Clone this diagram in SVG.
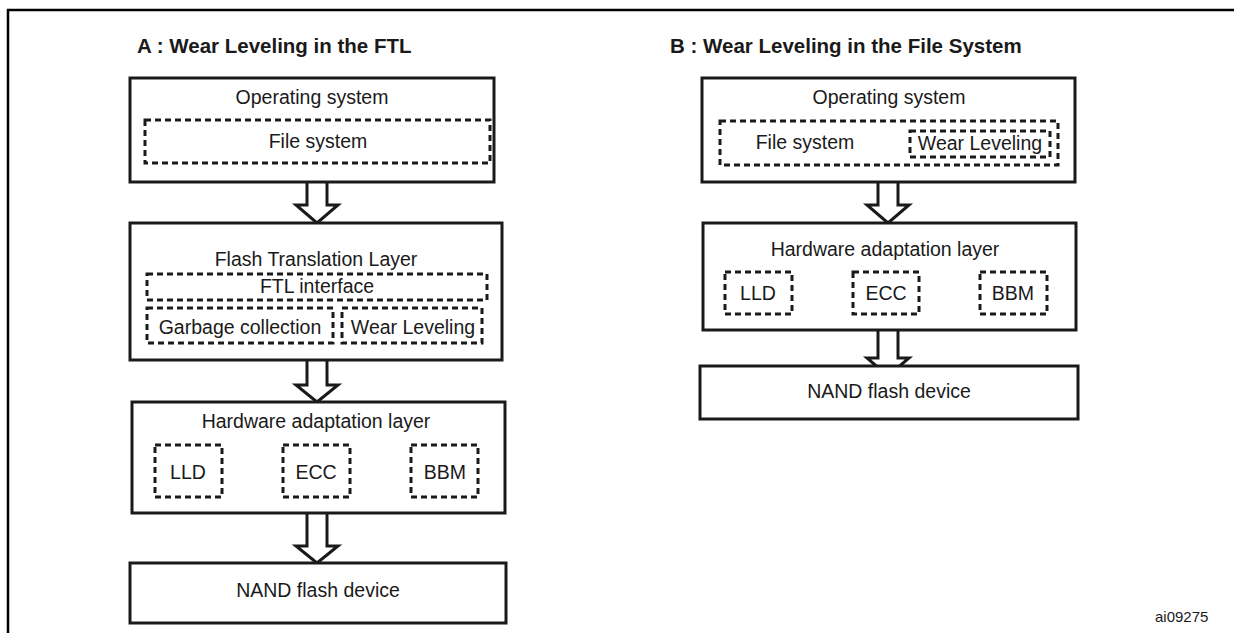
<svg xmlns="http://www.w3.org/2000/svg" width="1234" height="633" viewBox="0 0 1234 633">
<style>
.box{fill:#fff;stroke:#1a1a1a;stroke-width:3}
.dash{fill:none;stroke:#1a1a1a;stroke-width:3;stroke-dasharray:6 4}
.arrow{fill:#fff;stroke:#1a1a1a;stroke-width:3;stroke-linejoin:miter}
text{font-family:"Liberation Sans",Arial,sans-serif;fill:#1a1a1a}
.t{font-size:19.5px;text-anchor:middle}
.h{font-size:20.5px;font-weight:bold}
.id{font-size:15px}
</style>
<rect width="1234" height="633" fill="#fff"/>
<path d="M8,633 V10 H1234" fill="none" stroke="#000" stroke-width="2.5"/>
<text class="h" x="137" y="53">A : Wear Leveling in the FTL</text>
<text class="h" x="670" y="53">B : Wear Leveling in the File System</text>
<g id="connectors">
<path class="arrow" d="M307,182 V205 H296 L317,223 L338,205 H327 V182"/>
<path class="arrow" d="M307,360 V385 H296 L317,402 L338,385 H327 V360"/>
<path class="arrow" d="M307,513 V546 H296 L317,563 L338,546 H327 V513"/>
<path class="arrow" d="M878,182 V205 H867 L888,223 L909,205 H898 V182"/>
<path class="arrow" d="M878,330 V358 H867 L888,376 L909,358 H898 V330"/>
</g>
<g id="a-os">
<rect class="box" x="130" y="78" width="364" height="104"/>
<text class="t" x="312" y="104">Operating system</text>
<rect class="dash" x="145" y="120" width="345" height="43"/>
<text class="t" x="318" y="148">File system</text>
</g>
<g id="a-ftl">
<rect class="box" x="130" y="223" width="372" height="137"/>
<text class="t" x="316" y="266">Flash Translation Layer</text>
<rect class="dash" x="147" y="274" width="340" height="26"/>
<text class="t" x="317" y="293">FTL interface</text>
<rect class="dash" x="147" y="308" width="186" height="35"/>
<text class="t" x="240" y="334">Garbage collection</text>
<rect class="dash" x="342" y="308" width="140" height="35"/>
<text class="t" x="413" y="334">Wear Leveling</text>
</g>
<g id="a-hal">
<rect class="box" x="132" y="402" width="373" height="111"/>
<text class="t" x="316" y="428">Hardware adaptation layer</text>
<rect class="dash" x="155" y="445" width="67" height="52"/>
<text class="t" x="188" y="479">LLD</text>
<rect class="dash" x="283" y="445" width="67" height="52"/>
<text class="t" x="316" y="479">ECC</text>
<rect class="dash" x="411" y="445" width="67" height="52"/>
<text class="t" x="445" y="479">BBM</text>
</g>
<g id="a-nand">
<rect class="box" x="130" y="563" width="376" height="60"/>
<text class="t" x="318" y="597">NAND flash device</text>
</g>
<g id="b-os">
<rect class="box" x="702" y="78" width="373" height="104"/>
<text class="t" x="889" y="104">Operating system</text>
<rect class="dash" x="720" y="121" width="338" height="44"/>
<text class="t" x="805" y="149">File system</text>
<rect class="dash" x="910" y="131" width="140" height="26"/>
<text class="t" x="980" y="150">Wear Leveling</text>
</g>
<g id="b-hal">
<rect class="box" x="703" y="223" width="373" height="107"/>
<text class="t" x="885" y="256">Hardware adaptation layer</text>
<rect class="dash" x="725" y="272" width="67" height="42"/>
<text class="t" x="758" y="300">LLD</text>
<rect class="dash" x="853" y="272" width="66" height="42"/>
<text class="t" x="886" y="300">ECC</text>
<rect class="dash" x="980" y="272" width="67" height="42"/>
<text class="t" x="1013" y="300">BBM</text>
</g>
<g id="b-nand">
<rect class="box" x="700" y="366" width="378" height="53"/>
<text class="t" x="889" y="398">NAND flash device</text>
</g>
<text class="id" x="1155" y="622">ai09275</text>
</svg>
